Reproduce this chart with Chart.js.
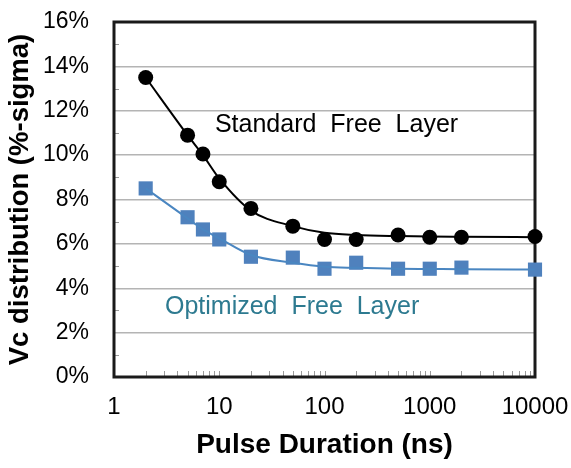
<!DOCTYPE html>
<html>
<head>
<meta charset="utf-8">
<script src="https://cdn.jsdelivr.net/npm/chart.js@4/dist/chart.umd.min.js"></script>
<style>
html,body{margin:0;padding:0;background:#fff;}
#wrap{width:571px;height:468px;}
</style>
</head>
<body>
<div id="wrap"><canvas id="c" width="571" height="468"></canvas></div>
<script>
// ---- data ----
const pulseNs = [2, 5, 7, 10, 20, 50, 100, 200, 500, 1000, 2000, 10000];
const standardMeasured = [13.5, 10.9, 10.05, 8.8, 7.6, 6.8, 6.2, 6.2, 6.4, 6.3, 6.3, 6.33];
const standardFit      = [13.5, 10.9, 10.0, 8.95, 7.5, 6.8, 6.5, 6.4, 6.35, 6.33, 6.32, 6.3];
const optimizedMeasured = [8.5, 7.2, 6.65, 6.2, 5.42, 5.38, 4.88, 5.15, 4.88, 4.88, 4.93, 4.84];
const optimizedFit      = [8.5, 7.15, 6.65, 6.25, 5.5, 5.15, 4.97, 4.92, 4.88, 4.87, 4.86, 4.84];
const xTickLabels = [1, 10, 100, 1000, 10000];
const yTickValues = [0, 2, 4, 6, 8, 10, 12, 14, 16];
const annotations = [
  {text: 'Standard  Free  Layer', x: 9.1, y: 11.36, color: '#000000'},
  {text: 'Optimized  Free  Layer', x: 3.05, y: 3.15, color: '#2d7a90'}
];

const FONT = "'Liberation Sans', Arial, sans-serif";
const toPts = (xs, ys) => xs.map((x, i) => ({x: x, y: ys[i]}));

const framePlugin = {
  id: 'frame',
  beforeDatasetsDraw(chart) {
    const {ctx, chartArea: a, scales} = chart;
    ctx.save();
    ctx.strokeStyle = '#9a9a9a';
    ctx.lineWidth = 1;
    for (let v = 1; v < 16; v += 2) {
      const y = Math.round(scales.y.getPixelForValue(v)) + 0.5;
      ctx.beginPath(); ctx.moveTo(a.left, y); ctx.lineTo(a.left + 5, y); ctx.stroke();
    }
    for (let d = 1; d < 10000; d *= 10) {
      for (let m = 2; m <= 10; m++) {
        const v = d * m;
        if (v >= 10000) continue;
        const x = Math.round(scales.x.getPixelForValue(v)) + 0.5;
        ctx.beginPath(); ctx.moveTo(x, a.bottom); ctx.lineTo(x, a.bottom - 6); ctx.stroke();
      }
    }
    ctx.strokeStyle = '#1a1a1a';
    ctx.lineWidth = 3;
    ctx.strokeRect(a.left, a.top, a.right - a.left, a.bottom - a.top);
    ctx.font = '25px ' + FONT;
    ctx.textAlign = 'left';
    ctx.textBaseline = 'middle';
    annotations.forEach(t => {
      ctx.fillStyle = t.color;
      ctx.fillText(t.text, scales.x.getPixelForValue(t.x), scales.y.getPixelForValue(t.y));
    });
    ctx.restore();
  }
};

new Chart(document.getElementById('c'), {
  type: 'line',
  data: {
    datasets: [
      {label: 'Standard fit', data: toPts(pulseNs, standardFit), borderColor: '#000', borderWidth: 2,
       pointRadius: 0, cubicInterpolationMode: 'monotone', fill: false},
      {label: 'Optimized fit', data: toPts(pulseNs, optimizedFit), borderColor: '#4a86c1', borderWidth: 2,
       pointRadius: 0, cubicInterpolationMode: 'monotone', fill: false},
      {label: 'Standard Free Layer', data: toPts(pulseNs, standardMeasured), showLine: false,
       pointStyle: 'circle', pointRadius: 7.5, backgroundColor: '#000', borderColor: '#000', borderWidth: 0},
      {label: 'Optimized Free Layer', data: toPts(pulseNs, optimizedMeasured), showLine: false,
       pointStyle: 'rect', pointRadius: 10, backgroundColor: '#4f81bd', borderColor: '#4f81bd', borderWidth: 0}
    ]
  },
  options: {
    responsive: false,
    animation: false,
    clip: false,
    layout: {padding: {top: 22, right: 36, left: 0, bottom: 0}},
    plugins: {legend: {display: false}, tooltip: {enabled: false}},
    scales: {
      x: {
        type: 'logarithmic', min: 1, max: 10000,
        border: {display: false},
        grid: {display: false, drawTicks: false},
        afterBuildTicks(s) { s.ticks = xTickLabels.map(v => ({value: v})); },
        afterFit(s) { s.height = 91; s.paddingLeft = 0; s.paddingRight = 0; },
        ticks: {autoSkip: false, maxRotation: 0, padding: 16, color: '#000',
                font: {family: FONT, size: 24}, callback: v => String(v)},
        title: {display: true, text: 'Pulse Duration (ns)', color: '#000',
                font: {family: FONT, size: 28, weight: 'bold'}, padding: {top: 0, bottom: 6}}
      },
      y: {
        min: 0, max: 16,
        border: {display: false},
        grid: {color: '#b4b4b4', lineWidth: 1.5, drawTicks: false},
        afterBuildTicks(s) { s.ticks = yTickValues.map(v => ({value: v})); },
        afterFit(s) { s.width = 114; s.paddingTop = 0; s.paddingBottom = 0; },
        ticks: {padding: 25, color: '#000', font: {family: FONT, size: 23},
                callback: v => v + '%'},
        title: {display: true, text: 'Vc distribution (%-sigma)', color: '#000',
                font: {family: FONT, size: 27.5, weight: 'bold'}, padding: {top: 4, bottom: 0}}
      }
    }
  },
  plugins: [framePlugin]
});
</script>
</body>
</html>
